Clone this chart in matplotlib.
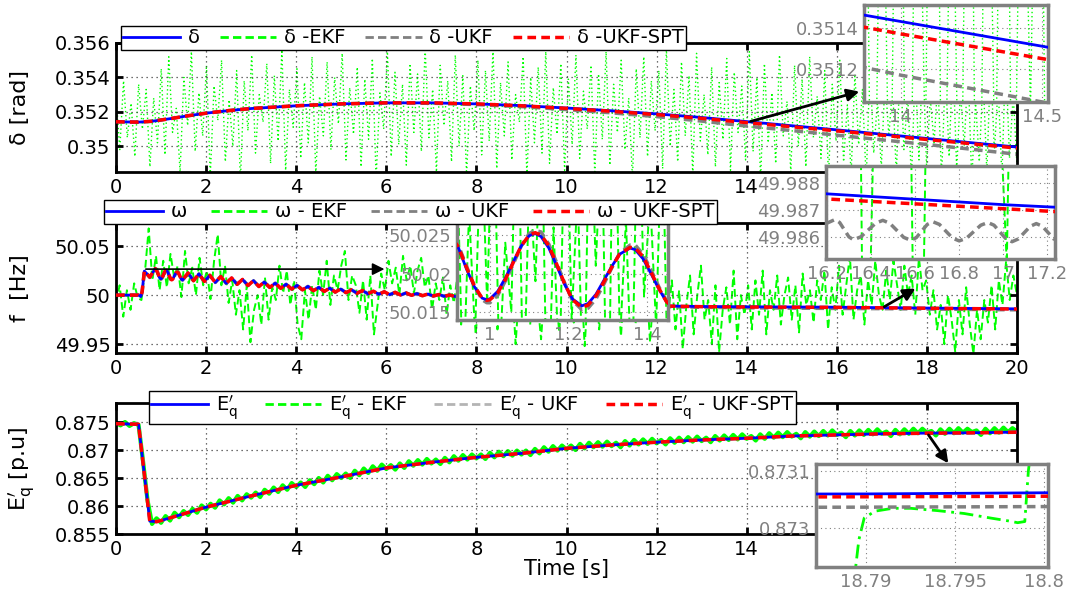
import matplotlib
matplotlib.use("Agg")
import matplotlib.pyplot as plt
from matplotlib.lines import Line2D
import numpy as np

plt.rcParams["font.family"] = ["DejaVu Sans"]
plt.rcParams["mathtext.fontset"] = "dejavusans"

BLUE = "#0000ff"
GREEN = "#00ff00"
GRAY = "#808080"
LIGHT_GRAY = "#b4b4b4"
RED = "#ff0000"

time_ticks = [0, 2, 4, 6, 8, 10, 12, 14, 16, 18, 20]

# -----------------------------
# Top panel: rotor angle delta [rad]
# -----------------------------
delta_t = [0, 0.5, 0.8, 1.2, 1.6, 2, 2.5, 3, 4, 5, 6, 7, 8, 9, 10, 11, 12, 13, 14, 15, 16, 17, 18, 19, 20]
delta_true = [0.35142, 0.35140, 0.35145, 0.35160, 0.35177, 0.35192, 0.35207, 0.35219, 0.35235, 0.35246, 0.35252,
              0.35252, 0.35246, 0.35236, 0.35222, 0.35206, 0.35188, 0.35167, 0.35143, 0.35119, 0.35095, 0.35070,
              0.35045, 0.35020, 0.34995]
delta_ukf = [0.35142, 0.35140, 0.35145, 0.35160, 0.35177, 0.35192, 0.35207, 0.35219, 0.35235, 0.35246, 0.35252,
             0.35250, 0.35242, 0.35230, 0.35213, 0.35194, 0.35172, 0.35146, 0.35117, 0.35091, 0.35064, 0.35037,
             0.35010, 0.34982, 0.34953]
delta_spt = [0.35142, 0.35140, 0.35145, 0.35160, 0.35177, 0.35192, 0.35207, 0.35219, 0.35235, 0.35246, 0.35252,
             0.35252, 0.35246, 0.35235, 0.35220, 0.35203, 0.35184, 0.35162, 0.35137, 0.35113, 0.35089, 0.35064,
             0.35039, 0.35014, 0.34989]
# EKF estimate, in 1e-4 rad above 0.35 (one value every ~0.083 s)
delta_ekf_e4 = [
    30, -2, 38, 5, 25, -6, 36, 10, 33, -12, 28, 2, 45, -5, 52, 8, 22, -15, 40, 12,
    55, -3, 31, 6, 47, -18, 35, 15, 50, -9, 27, 0, 44, -20, 38, 9, 53, -4, 30, 14,
    48, -10, 41, 3, 56, -14, 33, 11, 45, -7, 37, 2, 52, -16, 29, 6, 49, -2, 40, 13,
    54, -8, 34, 7, 46, -12, 39, 4, 51, -19, 31, 10, 55, -6, 43, 1, 36, -11, 48, 8,
    42, -3, 57, 5, 33, -15, 47, 12, 38, -9, 53, 0, 41, -17, 35, 9, 50, -5, 44, 3,
    56, -13, 37, 6, 49, -8, 30, 14, 52, -18, 40, 2, 46, -4, 55, -10, 34, 7, 48, -14,
    39, 1, 53, -7, 32, 10, 47, -16, 42, 4, 55, -11, 36, 8, 50, -2, 28, -19, 45, 5,
    52, -6, 38, 9, 44, -13, 56, 0, 33, -9, 49, 6, 41, -17, 54, 3, 30, -5, 46, -12,
    37, 4, 51, -14, 43, 8, 35, -8, 55, -3, 40, -20, 48, 2, 31, -10, 53, 6, 26, -15,
    47, 0, 39, -12, 52, 5, 29, -7, 44, -18, 36, 3, 50, -9, 24, -16, 42, 1, 33, -20,
    48, -4, 27, -13, 40, 6, 35, -17, 51, -2, 30, -19, 45, -8, 55, -11, 28, 2, 38, -18,
    44, -6, 53, -14, 32, 0, 46, -20, 26, -9, 41, -15, 49, -3, 35, -18, 54, -7, 30, -12,
]
# EKF detail inside the zoom window 13.87 .. 14.52 s (1e-4 rad above 0.35)
delta_ekf_zoom_e4 = [35, -5, 28, 2, 41, -10, 30, 8, 45, -3, 26, 0, 38, -8, 33, 5, 43, -2, 29, 10, 36, -6]

# -----------------------------
# Middle panel: frequency omega [Hz]
# -----------------------------
w_t_pre = [0, 0.5, 0.55, 0.58, 0.63, 0.75, 0.871]
w_true_pre = [50.0, 50.0, 49.9985, 50.004, 50.0245, 50.0185, 50.0269]
w_ukf_pre = [50.0, 50.0, 49.998, 50.003, 50.0248, 50.0180, 50.0272]
w_spt_pre = [50.0, 50.0, 49.9985, 50.0035, 50.0246, 50.0183, 50.0270]

w_t_zoom = [0.92, 0.94, 0.96, 0.98, 0.992, 1.0, 1.02, 1.04, 1.06, 1.08, 1.1, 1.115, 1.13, 1.15, 1.17, 1.19,
            1.21, 1.234, 1.25, 1.27, 1.29, 1.31, 1.33, 1.357, 1.37, 1.39, 1.41, 1.43, 1.45]
w_true_zoom = [50.0233, 50.0206, 50.0183, 50.0168, 50.0166, 50.0167, 50.0177, 50.0195, 50.0216, 50.0236,
               50.0249, 50.0252, 50.0248, 50.0233, 50.0210, 50.0186, 50.0167, 50.0158, 50.0161, 50.0173,
               50.0191, 50.0209, 50.0225, 50.0233, 50.0231, 50.0219, 50.0200, 50.0180, 50.0163]
w_ukf_zoom = [50.0236, 50.0210, 50.0184, 50.0166, 50.0162, 50.0162, 50.0172, 50.0191, 50.0213, 50.0236,
              50.0252, 50.0256, 50.0254, 50.0238, 50.0214, 50.0188, 50.0165, 50.0153, 50.0155, 50.0167,
              50.0186, 50.0207, 50.0226, 50.0237, 50.0237, 50.0225, 50.0205, 50.0183, 50.0164]
w_spt_zoom = [50.0234, 50.0208, 50.0184, 50.0168, 50.0165, 50.0166, 50.0175, 50.0193, 50.0215, 50.0236,
              50.0250, 50.0253, 50.0250, 50.0236, 50.0212, 50.0187, 50.0166, 50.0156, 50.0159, 50.0171,
              50.0189, 50.0208, 50.0225, 50.0234, 50.0233, 50.0222, 50.0202, 50.0181, 50.0163]

# damped swing: successive troughs / peaks
w_t_osc = [1.478, 1.599, 1.720, 1.841, 1.962, 2.083, 2.204, 2.325, 2.446, 2.567, 2.688, 2.809, 2.930, 3.051,
           3.172, 3.293, 3.414, 3.535, 3.656, 3.777, 3.898, 4.019, 4.140, 4.261, 4.382, 4.503, 4.624, 4.745,
           4.866, 4.987, 5.108, 5.229, 5.350, 5.471, 5.592, 5.713, 5.834, 5.955, 6.076, 6.197, 6.318, 6.439,
           6.560, 6.681, 6.802, 6.923, 7.044, 7.165, 7.286, 7.407, 7.528, 7.649, 7.770, 7.891]
w_osc = [50.0153, 50.0226, 50.0147, 50.0216, 50.0139, 50.0202, 50.0129, 50.0189, 50.0120, 50.0175, 50.0110,
         50.0160, 50.0098, 50.0147, 50.0088, 50.0133, 50.0078, 50.0122, 50.0069, 50.0111, 50.0061, 50.0099,
         50.0053, 50.0089, 50.0045, 50.0079, 50.0038, 50.0071, 50.0031, 50.0062, 50.0025, 50.0054, 50.0019,
         50.0047, 50.0014, 50.0040, 50.0009, 50.0034, 50.0005, 50.0028, 50.0001, 50.0022, 49.9998, 50.0016,
         49.9994, 50.0011, 49.9991, 50.0006, 49.9988, 50.0001, 49.9986, 49.9997, 49.9984, 49.9993]

w_t_tail = [8.5, 9.5, 10.5, 11.5, 12.25, 13, 14, 15, 16, 17, 18, 19, 20]
w_true_tail = [49.9980, 49.9955, 49.9928, 49.9903, 49.9889, 49.9884, 49.9881, 49.9879, 49.9877, 49.9872,
               49.9868, 49.9864, 49.9860]
w_ukf_tail = [49.9979, 49.9952, 49.9924, 49.9898, 49.9882, 49.9876, 49.9871, 49.9867, 49.9864, 49.9862,
              49.9858, 49.9854, 49.9850]
w_spt_tail = [49.9980, 49.9954, 49.9927, 49.9902, 49.9888, 49.9882, 49.98785, 49.98770, 49.98750, 49.98705,
              49.98660, 49.98620, 49.98580]

# EKF estimate in mHz away from 50 Hz (one value every ~0.08 s)
w_ekf_mhz = [
    -8, 10, -22, 5, -15, 12, -3,
    -5, 25, 68, 15, 40, 5, 35,
    8, 42, 18, 30, -2, 45, 12, 28, 0, 38, 10, 25,
    -4, 35, 62, 10, 30, -8,
    15, -20, 5, -35, 10, -48, -15, 0, -30, 18, -25, 8,
    -5, 30, 2, 25, -10,
    15, -30, -45, 5, -25, 10,
    -15, 25, 0, 35, -10, 20, 5, 30, 45, -5, 20, 10, -18,
    15, -25, 20, -40, -10, 22,
    5, 35, 12, 28, 0, 40, 15, 30, 2, 25, 38, 8, 20,
    -15, 12, -5, 18, -20, 10, -8,
    20, -30, 10, -15, 25, -40, 5, -20, 30, -8, 15, -35, 0, 22, -25, 12, -50, 8, -10, 28,
    -30, 18, -5, -45, 10, 25, -20, 5, -38, 15, -12, 30, -28, 0, 20, -52, 8, -15, 22, -35,
    12, -8, 28, -25, 5, -42, 18, -10, 25, -30, 10, -18, 15, -48, 6, 20, -22, 3,
    -20, 15, -35, 5, -55, -10, 20, -40, 0, 30, -25, -5, -50, 10, -58, -15, 8, -30, 25, -45, 0, -20,
    10, -35, 15, -20, 25, -40, 5, -15, 20, -30, 0, 18, -25, 10, -38, 22, -10, 5, -28, 15, -5, 25, -35, 8, -15,
    30, -20, 10, 40, -25, 5, 20, -30, 15, -10, 35, 0, -15,
    25, -5, 35, 10, -15, 30, 0, 20, -20, 38, 5, 15,
    -20, 5, -35, -10, -50, 0, -25, -58, -5, -40, 8, -30, -60, -15, -45, -5, -28, 10, -35,
    15, -10, 35, -5, 20, 0,
]
# EKF detail inside the zoom window 0.916 .. 1.454 s (mHz away from 50 Hz)
w_ekf_zoom_mhz = [35, 5, 28, 12, 40, 16, 45, 8, 24, 15, 50, 2, 33, 19, 42, -2, 26, 6, 48, 14, 31, 0, 44, 21,
                  39, -8, 52, 11, 27, 4, 46, 17, 30, 13, 41, 3]
# UKF detail inside the zoom window 16.2 .. 17.23 s
w_ukf_zoom2_t = [16.195, 16.236, 16.257, 16.299, 16.32, 16.353, 16.42, 16.453, 16.485, 16.548, 16.58, 16.605,
                 16.655, 16.68, 16.71, 16.77, 16.80, 16.833, 16.898, 16.93, 16.958, 17.013, 17.04, 17.068,
                 17.123, 17.15, 17.178, 17.233]
w_ukf_zoom2 = [49.98650, 49.98665, 49.98654, 49.98601, 49.98590, 49.98601, 49.98651, 49.98662, 49.98651,
               49.98599, 49.98588, 49.98598, 49.98647, 49.98657, 49.98647, 49.98596, 49.98586, 49.98596,
               49.98644, 49.98654, 49.98644, 49.98593, 49.98583, 49.98593, 49.98640, 49.98650, 49.98640,
               49.98590]

# -----------------------------
# Bottom panel: E'q [p.u]
# -----------------------------
e_t = [0, 0.5, 0.75, 0.9, 1.0, 1.5, 2, 3, 4, 5, 6, 7, 8, 9, 10, 11, 12, 13, 14, 15, 16, 17, 18, 18.79, 18.8,
       19, 20]
e_true = [0.8747, 0.8746, 0.8573, 0.8572, 0.8574, 0.8586, 0.8598, 0.8618, 0.8637, 0.8652, 0.8668, 0.8678,
          0.8687, 0.8694, 0.8703, 0.8709, 0.8714, 0.8718, 0.8721, 0.8725, 0.8727, 0.8729, 0.87302, 0.873060,
          0.873062, 0.87308, 0.8732]
e_ukf = [0.8747, 0.8746, 0.8573, 0.8572, 0.8574, 0.8586, 0.8598, 0.8618, 0.8637, 0.8652, 0.8668, 0.8678,
         0.8687, 0.8694, 0.8703, 0.8709, 0.8714, 0.8718, 0.8721, 0.8725, 0.8727, 0.8729, 0.87299, 0.873037,
         0.873038, 0.87305, 0.87317]
e_spt = [0.8747, 0.8746, 0.8573, 0.8572, 0.8574, 0.8586, 0.8598, 0.8618, 0.8637, 0.8652, 0.8668, 0.8678,
         0.8687, 0.8694, 0.8703, 0.8709, 0.8714, 0.8718, 0.8721, 0.8725, 0.8727, 0.8729, 0.87301, 0.873055,
         0.873056, 0.87307, 0.87319]
# EKF estimate in 1e-4 p.u. above 0.85 (one value every 0.1 s)
e_ekf_e4 = [
    249, 244, 250, 243, 248, 245,
    180, 110,
    68, 78, 70,
    82, 74, 88, 80, 91, 84, 95, 88, 101, 94,
    104, 97, 110, 103, 114, 106, 118, 110, 121, 115,
    124, 116, 129, 122, 133, 125, 137, 129, 141, 134,
    142, 134, 146, 139, 150, 142, 154, 146, 157, 150,
    158, 150, 163, 155, 167, 159, 171, 163, 174, 166,
    173, 165, 176, 168, 180, 172, 182, 174, 184, 176,
    183, 175, 186, 178, 189, 181, 191, 183, 192, 185,
    192, 184, 195, 187, 197, 189, 198, 190, 199, 192,
    199, 191, 202, 194, 205, 197, 207, 199, 208, 201,
    208, 200, 211, 203, 213, 205, 214, 206, 215, 207,
    213, 205, 216, 208, 218, 210, 219, 211, 220, 212,
    218, 210, 221, 213, 222, 214, 223, 215, 224, 216,
    222, 214, 225, 217, 226, 218, 227, 219, 228, 220,
    225, 217, 228, 220, 230, 222, 231, 223, 232, 224,
    229, 221, 232, 224, 233, 225, 234, 226, 235, 227,
    231, 223, 234, 226, 235, 227, 236, 228, 237, 229,
    233, 225, 236, 228, 237, 229, 238, 230, 238, 231,
    234, 226, 237, 229, 238, 230, 239, 231, 238, 232,
    235, 227, 238, 230, 239, 231, 240, 232, 239, 233,
]
# EKF detail inside the zoom window 18.787 .. 18.800 s
e_ekf_zoom_t = [18.7893, 18.7896, 18.7899, 18.7905, 18.7915, 18.7925, 18.794, 18.7955, 18.797, 18.798,
                18.7985, 18.7989, 18.7991, 18.7993]
e_ekf_zoom = [0.87290, 0.87298, 0.873018, 0.873030, 0.873035, 0.873035, 0.873031, 0.873026, 0.873018,
              0.873013, 0.873010, 0.873012, 0.87310, 0.87315]

# assembled series
delta_ekf = 0.35 + np.array(delta_ekf_e4) * 1e-4
delta_ekf_t = np.linspace(0, 20, len(delta_ekf))
delta_ekf_zoom = 0.35 + np.array(delta_ekf_zoom_e4) * 1e-4
delta_ekf_zoom_t = np.linspace(13.87, 14.52, len(delta_ekf_zoom))

w_t = w_t_pre + w_t_zoom + w_t_osc + w_t_tail
w_true = w_true_pre + w_true_zoom + w_osc + w_true_tail
w_ukf = w_ukf_pre + w_ukf_zoom + w_osc + w_ukf_tail
w_spt = w_spt_pre + w_spt_zoom + w_osc + w_spt_tail
w_ekf = 50 + np.array(w_ekf_mhz) * 1e-3
w_ekf_t = np.linspace(0, 20, len(w_ekf))
w_ekf_zoom = 50 + np.array(w_ekf_zoom_mhz) * 1e-3
w_ekf_zoom_t = np.linspace(0.916, 1.454, len(w_ekf_zoom))

e_ekf = 0.85 + np.array(e_ekf_e4) * 1e-4
e_ekf_t = np.linspace(0, 20, len(e_ekf))

EQ = r"$\mathrm{E}^{\prime}_{\mathrm{q}}$"

W = 1083.0
H = 594.0


def px_box(x0, y0, x1, y1):
    return [x0 / W, 1 - y1 / H, (x1 - x0) / W, (y1 - y0) / H]


def style_main(ax, ylim, yticks, ylabels):
    ax.set_xlim(0, 20)
    ax.set_ylim(*ylim)
    ax.set_xticks(time_ticks)
    ax.set_xticklabels([str(v) for v in time_ticks])
    ax.set_yticks(yticks)
    ax.set_yticklabels(ylabels)
    ax.tick_params(direction="in", length=5, width=2, top=True, right=True, labelsize=14, pad=4)
    for s in ax.spines.values():
        s.set_linewidth(2)
        s.set_color("k")
    ax.grid(True, linestyle=(0, (1, 3)), color="0.25", linewidth=0.9)


def style_inset(ax, xlim, ylim, xticks, xlabels, yticks, ylabels):
    ax.set_xlim(*xlim)
    ax.set_ylim(*ylim)
    ax.set_xticks(xticks)
    ax.set_xticklabels(xlabels)
    ax.set_yticks(yticks)
    ax.set_yticklabels(ylabels)
    ax.tick_params(length=0, labelsize=13, labelcolor=GRAY, pad=4)
    for s in ax.spines.values():
        s.set_linewidth(2.5)
        s.set_color(GRAY)
    ax.grid(True, linestyle=(0, (1, 3)), color="0.5", linewidth=0.8)


def add_legend(fig, labels, anchor, ukf_color, spacing):
    handles = [
        Line2D([], [], color=BLUE, lw=2),
        Line2D([], [], color=GREEN, lw=2, ls=(0, (3, 1.5))),
        Line2D([], [], color=ukf_color, lw=2, ls=(0, (3, 1.5))),
        Line2D([], [], color=RED, lw=2.5, ls=(0, (2.5, 1.5))),
    ]
    leg = fig.legend(handles, labels, loc="upper left", bbox_to_anchor=anchor, ncol=4, fontsize=14,
                     frameon=True, fancybox=False, edgecolor="k", framealpha=1, handlelength=2.9,
                     handletextpad=0.4, columnspacing=spacing, borderpad=0.12, borderaxespad=0)
    leg.get_frame().set_linewidth(1.0)
    return leg


fig = plt.figure(figsize=(10.83, 5.94), dpi=100)

ax1 = fig.add_axes(px_box(116, 43, 1017, 172))
ax2 = fig.add_axes(px_box(116, 223, 1017, 353))
ax3 = fig.add_axes(px_box(116, 403, 1017, 534))

# -----------------------------
# 1. delta
# -----------------------------
ax1.plot(delta_ekf_t, delta_ekf, color=GREEN, lw=1, ls=(0, (1, 2)), zorder=1)
ax1.plot(delta_t, delta_ukf, color=GRAY, lw=2.5, ls=(0, (2.5, 1.5)), zorder=2)
ax1.plot(delta_t, delta_true, color=BLUE, lw=2, zorder=3)
ax1.plot(delta_t, delta_spt, color=RED, lw=2.5, ls=(0, (2.5, 1.5)), zorder=4)
style_main(ax1, (0.3485, 0.356), [0.35, 0.352, 0.354, 0.356], ["0.35", "0.352", "0.354", "0.356"])
ax1.set_ylabel("δ [rad]", fontsize=16)
ax1.yaxis.set_label_coords(-0.095, 0.5)
ax1.annotate("", xy=(16.56, 0.35322), xytext=(14.03, 0.35140),
             arrowprops=dict(arrowstyle="-|>", color="k", lw=2, mutation_scale=18), annotation_clip=False,
             zorder=6)

# -----------------------------
# 2. omega
# -----------------------------
ax2.plot(w_ekf_t, w_ekf, color=GREEN, lw=1.4, ls=(0, (4, 2)), zorder=1)
ax2.plot(w_t, w_ukf, color=GRAY, lw=2.5, ls=(0, (2.5, 1.5)), zorder=2)
ax2.plot(w_t, w_true, color=BLUE, lw=2, zorder=3)
ax2.plot(w_t, w_spt, color=RED, lw=2.5, ls=(0, (2.5, 1.5)), zorder=4)
style_main(ax2, (49.941, 50.0735), [49.95, 50.0, 50.05], ["49.95", "50", "50.05"])
ax2.set_ylabel("f  [Hz]", fontsize=16)
ax2.yaxis.set_label_coords(-0.095, 0.5)
ax2.annotate("", xy=(6.02, 50.0265), xytext=(0.6, 50.0265),
             arrowprops=dict(arrowstyle="-|>", color="k", lw=1.2, mutation_scale=18), zorder=6)
ax2.annotate("", xy=(17.8, 50.0082), xytext=(17.0, 49.9867),
             arrowprops=dict(arrowstyle="-|>", color="k", lw=2, mutation_scale=18), zorder=6)

# -----------------------------
# 3. E'q
# -----------------------------
ax3.plot(e_ekf_t, e_ekf, color=GREEN, lw=3, zorder=1)
ax3.plot(e_t, e_ukf, color=LIGHT_GRAY, lw=2.5, ls=(0, (2.5, 1.5)), zorder=2)
ax3.plot(e_t, e_true, color=BLUE, lw=2, zorder=3)
ax3.plot(e_t, e_spt, color=RED, lw=2.5, ls=(0, (2.5, 1.5)), zorder=4)
style_main(ax3, (0.855, 0.8784), [0.855, 0.86, 0.865, 0.87, 0.875],
           ["0.855", "0.86", "0.865", "0.87", "0.875"])
ax3.set_ylabel(EQ + " [p.u]", fontsize=16)
ax3.yaxis.set_label_coords(-0.088, 0.5)
ax3.set_xlabel("Time [s]", fontsize=15, labelpad=0)
ax3.annotate("", xy=(18.51, 0.86722), xytext=(18.0, 0.8731),
             arrowprops=dict(arrowstyle="-|>", color="k", lw=2, mutation_scale=18), annotation_clip=False,
             zorder=6)

# -----------------------------
# Insets
# -----------------------------
in1 = fig.add_axes(px_box(864, 5, 1048, 102))
in1.plot(delta_ekf_zoom_t, delta_ekf_zoom, color=GREEN, lw=1, ls=(0, (1, 2)), zorder=1)
in1.plot(delta_t, delta_ukf, color=GRAY, lw=2.5, ls=(0, (2.5, 1.5)), zorder=2)
in1.plot(delta_t, delta_true, color=BLUE, lw=2, zorder=3)
in1.plot(delta_t, delta_spt, color=RED, lw=2.5, ls=(0, (2.5, 1.5)), zorder=4)
style_inset(in1, (13.87, 14.52), (0.35104, 0.35151), [14, 14.5], ["14", "14.5"],
            [0.3512, 0.3514], ["0.3512", "0.3514"])

in2 = fig.add_axes(px_box(457, 223, 668, 320))
in2.plot(w_ekf_zoom_t, w_ekf_zoom, color=GREEN, lw=1.4, ls=(0, (4, 2)), zorder=1)
in2.plot(w_t, w_ukf, color=GRAY, lw=2.5, ls=(0, (2.5, 1.5)), zorder=2)
in2.plot(w_t, w_true, color=BLUE, lw=2, zorder=3)
in2.plot(w_t, w_spt, color=RED, lw=2.5, ls=(0, (2.5, 1.5)), zorder=4)
style_inset(in2, (0.916, 1.4535), (50.01396, 50.02656), [1, 1.2, 1.4], ["1", "1.2", "1.4"],
            [50.015, 50.02, 50.025], ["50.015", "50.02", "50.025"])

in3 = fig.add_axes(px_box(826, 166, 1055, 259))
in3.plot(w_ekf_t, w_ekf, color=GREEN, lw=1.4, ls=(0, (4, 2)), zorder=1)
in3.plot(w_ukf_zoom2_t, w_ukf_zoom2, color=GRAY, lw=2.5, ls=(0, (2.5, 1.5)), zorder=2)
in3.plot(w_t, w_true, color=BLUE, lw=2, zorder=3)
in3.plot(w_t, w_spt, color=RED, lw=2.5, ls=(0, (2.5, 1.5)), zorder=4)
style_inset(in3, (16.195, 17.235), (49.98519, 49.98863), [16.2, 16.4, 16.6, 16.8, 17, 17.2],
            ["16.2", "16.4", "16.6", "16.8", "17", "17.2"],
            [49.986, 49.987, 49.988], ["49.986", "49.987", "49.988"])

in4 = fig.add_axes(px_box(816, 464, 1048, 567))
in4.plot(e_ekf_zoom_t, e_ekf_zoom, color=GREEN, lw=2, ls=(0, (5, 2, 1, 2)), zorder=1)
in4.plot(e_t, e_ukf, color=GRAY, lw=2.5, ls=(0, (2.5, 1.5)), zorder=2)
in4.plot(e_t, e_true, color=BLUE, lw=2, zorder=3)
in4.plot(e_t, e_spt, color=RED, lw=2.5, ls=(0, (2.5, 1.5)), zorder=4)
style_inset(in4, (18.7872, 18.8002), (0.872933, 0.873112), [18.79, 18.795, 18.8],
            ["18.79", "18.795", "18.8"], [0.873, 0.8731], ["0.873", "0.8731"])

# -----------------------------
# Legends
# -----------------------------
add_legend(fig, ["δ", "δ -EKF", "δ -UKF", "δ -UKF-SPT"], (121 / W, 1 - 26 / H), GRAY, 1.03)
add_legend(fig, ["ω", "ω - EKF", "ω - UKF", "ω - UKF-SPT"], (104 / W, 1 - 200 / H), GRAY, 1.22)
add_legend(fig, [EQ, EQ + " - EKF", EQ + " - UKF", EQ + " - UKF-SPT"], (149 / W, 1 - 391 / H),
           LIGHT_GRAY, 1.4)

fig.savefig("out.png", dpi=100)
plt.close(fig)
